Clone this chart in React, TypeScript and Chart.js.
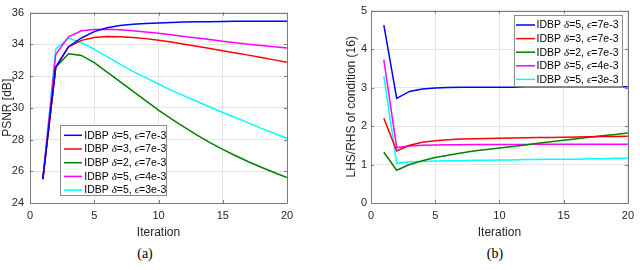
import React, { useEffect, useRef } from "react";
import { Chart, registerables } from "chart.js";

Chart.register(...registerables);

// ---------- data ----------
const iterations = [1, 2, 3, 4, 5, 6, 7, 8, 9, 10, 11, 12, 13, 14, 15, 16, 17, 18, 19, 20];

const seriesDelta = ["5", "3", "2", "5", "5"];
const seriesEps = ["7e-3", "7e-3", "7e-3", "4e-3", "3e-3"];
const seriesColors = ["#0000ff", "#ff0000", "#008000", "#ff00ff", "#00ffff"];

// (a) PSNR [dB]
const psnrD5E7 = [25.5, 32.55, 33.85, 34.4, 34.8, 35.05, 35.18, 35.26, 35.32, 35.35, 35.38, 35.4, 35.42, 35.43, 35.44, 35.45, 35.45, 35.45, 35.45, 35.45];
const psnrD3E7 = [25.5, 32.55, 33.85, 34.25, 34.43, 34.5, 34.48, 34.43, 34.36, 34.26, 34.14, 34.01, 33.88, 33.74, 33.6, 33.46, 33.32, 33.17, 33.02, 32.87];
const psnrD2E7 = [25.5, 32.55, 33.4, 33.3, 32.85, 32.25, 31.65, 31.05, 30.45, 29.85, 29.3, 28.78, 28.28, 27.8, 27.38, 26.98, 26.6, 26.25, 25.92, 25.6];
const psnrD5E4 = [25.5, 33.35, 34.47, 34.85, 34.93, 34.95, 34.92, 34.86, 34.78, 34.7, 34.6, 34.5, 34.4, 34.3, 34.2, 34.1, 34.01, 33.93, 33.85, 33.77];
const psnrD5E3 = [25.5, 33.7, 34.4, 34.1, 33.7, 33.22, 32.75, 32.3, 31.9, 31.5, 31.1, 30.75, 30.4, 30.05, 29.7, 29.37, 29.05, 28.7, 28.4, 28.08];

// (b) LHS/RHS of condition (16)
const ratioD5E7 = [4.62, 2.72, 2.9, 2.96, 2.99, 3.0, 3.01, 3.01, 3.01, 3.01, 3.01, 3.02, 3.02, 3.02, 3.02, 3.02, 3.02, 3.02, 3.02, 3.02];
const ratioD3E7 = [2.2, 1.35, 1.5, 1.58, 1.62, 1.645, 1.66, 1.67, 1.675, 1.68, 1.69, 1.695, 1.7, 1.705, 1.71, 1.715, 1.72, 1.725, 1.73, 1.735];
const ratioD2E7 = [1.32, 0.85, 1.0, 1.1, 1.18, 1.24, 1.3, 1.35, 1.39, 1.43, 1.47, 1.51, 1.55, 1.59, 1.63, 1.67, 1.71, 1.75, 1.78, 1.82];
const ratioD5E4 = [3.72, 1.44, 1.48, 1.5, 1.51, 1.515, 1.515, 1.52, 1.52, 1.52, 1.52, 1.52, 1.525, 1.525, 1.525, 1.525, 1.53, 1.53, 1.53, 1.53];
const ratioD5E3 = [3.3, 1.03, 1.07, 1.08, 1.09, 1.1, 1.1, 1.11, 1.11, 1.12, 1.12, 1.13, 1.13, 1.14, 1.14, 1.14, 1.15, 1.15, 1.16, 1.16];

const psnrSeries = [psnrD5E7, psnrD3E7, psnrD2E7, psnrD5E4, psnrD5E3];
const ratioSeries = [ratioD5E7, ratioD3E7, ratioD2E7, ratioD5E4, ratioD5E3];

const xTicks = [0, 5, 10, 15, 20];
const psnrTicks = [24, 26, 28, 30, 32, 34, 36];
const ratioTicks = [0, 1, 2, 3, 4, 5];

// ---------- styling ----------
const SANS = '"Liberation Sans", Arial, sans-serif';
const SERIF = '"Liberation Serif", "Times New Roman", serif';
const AXIS_COLOR = "#262626";
const BOX_COLOR = "#7a7a7a";
const GRID_COLOR = "#e6e6e6";

type LegendCfg = {
  corner: "bl" | "tr";
  dx: number;
  dy: number;
  width: number;
  height: number;
  firstRow: number;
  rowStep: number;
  lineStart: number;
  lineEnd: number;
  textStart: number;
};

const boxPlugin = {
  id: "matlabBox",
  afterDatasetsDraw(chart: any) {
    const { ctx, chartArea } = chart;
    const { left, right, top, bottom } = chartArea;
    ctx.save();
    ctx.strokeStyle = BOX_COLOR;
    ctx.lineWidth = 1;
    ctx.beginPath();
    ctx.rect(Math.round(left) + 0.5, Math.round(top) + 0.5, Math.round(right - left), Math.round(bottom - top));
    ctx.stroke();
    const tl = 3;
    const xs = chart.scales.x;
    const ys = chart.scales.y;
    ctx.beginPath();
    xs.ticks.forEach((t: any) => {
      const px = Math.round(xs.getPixelForValue(t.value)) + 0.5;
      ctx.moveTo(px, bottom);
      ctx.lineTo(px, bottom - tl);
      ctx.moveTo(px, top);
      ctx.lineTo(px, top + tl);
    });
    ys.ticks.forEach((t: any) => {
      const py = Math.round(ys.getPixelForValue(t.value)) + 0.5;
      ctx.moveTo(left, py);
      ctx.lineTo(left + tl, py);
      ctx.moveTo(right, py);
      ctx.lineTo(right - tl, py);
    });
    ctx.stroke();
    ctx.restore();
  },
};

const legendPlugin = {
  id: "matlabLegend",
  afterDraw(chart: any, _args: any, opts: any) {
    const cfg: LegendCfg = opts.cfg;
    if (!cfg) return;
    const { ctx, chartArea } = chart;
    let bx: number;
    let by: number;
    if (cfg.corner === "bl") {
      bx = chartArea.left + cfg.dx;
      by = chartArea.bottom - cfg.dy - cfg.height;
    } else {
      bx = chartArea.right - cfg.dx - cfg.width;
      by = chartArea.top + cfg.dy;
    }
    bx = Math.round(bx);
    by = Math.round(by);
    ctx.save();
    ctx.fillStyle = "#ffffff";
    ctx.fillRect(bx, by, cfg.width, cfg.height);
    ctx.strokeStyle = "#8a8a8a";
    ctx.lineWidth = 1;
    ctx.strokeRect(bx + 0.5, by + 0.5, cfg.width - 1, cfg.height - 1);
    ctx.textBaseline = "middle";
    ctx.textAlign = "left";
    const sansFont = `10.5px ${SANS}`;
    const serifFont = `italic 11px ${SERIF}`;
    chart.data.datasets.forEach((ds: any, i: number) => {
      const y = by + cfg.firstRow + i * cfg.rowStep;
      ctx.strokeStyle = ds.borderColor;
      ctx.lineWidth = 1.5;
      ctx.beginPath();
      ctx.moveTo(bx + cfg.lineStart, y);
      ctx.lineTo(bx + cfg.lineEnd, y);
      ctx.stroke();
      const parts: [string, string][] = [
        ["IDBP ", sansFont],
        ["\u03b4", serifFont],
        [`=${seriesDelta[i]}, `, sansFont],
        ["\u03f5", serifFont],
        [`=${seriesEps[i]}`, sansFont],
      ];
      let x = bx + cfg.textStart;
      ctx.fillStyle = "#000000";
      parts.forEach(([txt, f]) => {
        ctx.font = f;
        ctx.fillText(txt, x, y + 0.5);
        x += ctx.measureText(txt).width;
      });
    });
    ctx.restore();
  },
};

type PlotProps = {
  series: number[][];
  yMin: number;
  yMax: number;
  yTicks: number[];
  yTitle: string;
  yWidth: number;
  yTitlePad: number;
  yTickPad: number;
  padTop: number;
  padRight: number;
  legend: LegendCfg;
  left: number;
};

function Plot(p: PlotProps) {
  const ref = useRef<HTMLCanvasElement | null>(null);
  useEffect(() => {
    if (!ref.current) return;
    const datasets = p.series.map((vals, i) => ({
      label: `IDBP \u03b4=${seriesDelta[i]}, \u03f5=${seriesEps[i]}`,
      data: iterations.map((it, k) => ({ x: it, y: vals[k] })),
      borderColor: seriesColors[i],
      backgroundColor: seriesColors[i],
      borderWidth: 1.5,
      pointRadius: 0,
      tension: 0,
      fill: false,
    }));
    const chart = new Chart(ref.current, {
      type: "line",
      data: { datasets },
      options: {
        responsive: false,
        animation: false,
        devicePixelRatio: 1,
        layout: { padding: { top: p.padTop, right: p.padRight, left: 0, bottom: 0 } },
        plugins: {
          legend: { display: false },
          tooltip: { enabled: false },
          matlabLegend: { cfg: p.legend },
        } as any,
        scales: {
          x: {
            type: "linear",
            min: 0,
            max: 20,
            afterBuildTicks: (s: any) => {
              s.ticks = xTicks.map((v) => ({ value: v }));
            },
            afterFit: (s: any) => {
              s.height = 37;
            },
            grid: { color: GRID_COLOR, drawTicks: false, lineWidth: 1 },
            border: { display: false },
            ticks: { color: AXIS_COLOR, font: { family: SANS, size: 11 }, padding: 6, maxRotation: 0 },
            title: {
              display: true,
              text: "Iteration",
              color: AXIS_COLOR,
              font: { family: SANS, size: 12 },
              padding: { top: 0, bottom: 0.5 },
            },
          },
          y: {
            type: "linear",
            min: p.yMin,
            max: p.yMax,
            afterBuildTicks: (s: any) => {
              s.ticks = p.yTicks.map((v) => ({ value: v }));
            },
            afterFit: (s: any) => {
              s.width = p.yWidth;
            },
            grid: { color: GRID_COLOR, drawTicks: false, lineWidth: 1 },
            border: { display: false },
            ticks: { color: AXIS_COLOR, font: { family: SANS, size: 11 }, padding: p.yTickPad },
            title: {
              display: true,
              text: p.yTitle,
              color: AXIS_COLOR,
              font: { family: SANS, size: 12 },
              padding: { top: p.yTitlePad, bottom: 0 },
            },
          },
        },
      },
      plugins: [boxPlugin, legendPlugin],
    });
    return () => chart.destroy();
  }, []);
  return (
    <canvas
      ref={ref}
      width={320}
      height={240}
      style={{ position: "absolute", left: p.left, top: 0, width: 320, height: 240 }}
    />
  );
}

const captionStyle: React.CSSProperties = {
  position: "absolute",
  top: 245,
  width: 40,
  textAlign: "center",
  fontFamily: SERIF,
  fontWeight: "normal",
  fontSize: 14,
  color: "#000",
  lineHeight: "17px",
};

export default function App() {
  return (
    <div style={{ position: "fixed", left: 0, top: 0, width: 640, height: 270, background: "#fff", overflow: "hidden" }}>
      <Plot
        series={psnrSeries}
        yMin={24}
        yMax={36}
        yTicks={psnrTicks}
        yTitle="PSNR [dB]"
        yWidth={30}
        yTitlePad={0.3}
        yTickPad={6}
        padTop={9}
        padRight={33}
        left={0}
        legend={{ corner: "bl", dx: 30, dy: 7, width: 107, height: 71, firstRow: 10.3, rowStep: 13.7, lineStart: 4, lineEnd: 22, textStart: 24.3 }}
      />
      <Plot
        series={ratioSeries}
        yMin={0}
        yMax={5}
        yTicks={ratioTicks}
        yTitle="LHS/RHS of condition (16)"
        yWidth={51}
        yTitlePad={24.5}
        yTickPad={4}
        padTop={4}
        padRight={6}
        left={320}
        legend={{ corner: "tr", dx: 5, dy: 4, width: 109, height: 72, firstRow: 10, rowStep: 13.6, lineStart: 2, lineEnd: 21, textStart: 22.6 }}
      />
      <div style={{ ...captionStyle, left: 125 }}>(a)</div>
      <div style={{ ...captionStyle, left: 475 }}>(b)</div>
    </div>
  );
}
